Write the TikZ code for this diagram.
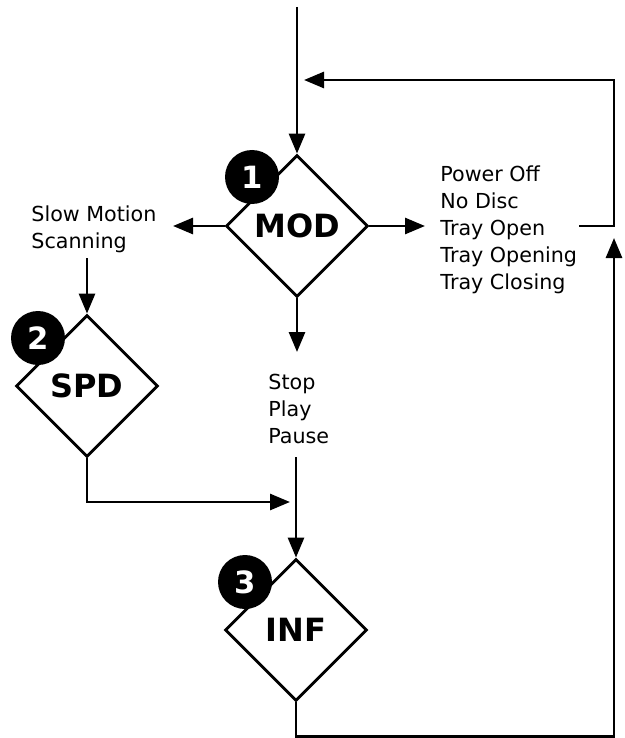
\documentclass[tikz,border=0pt]{standalone}
\usepackage{fontspec}
\setmainfont{DejaVu Sans}
\usetikzlibrary{shapes.geometric,arrows.meta}

\begin{document}
\begin{tikzpicture}[x=0.75pt,y=0.75pt,line width=2.1pt,
  flow/.style={-{Triangle[length=15pt,width=12pt]}},
  decision/.style={diamond,draw=black,fill=white,line width=2.1pt,minimum width=106.5pt,minimum height=106.5pt,inner sep=0pt,font=\fontsize{24}{28}\selectfont\bfseries},
  badge/.style={circle,fill=black,draw=none,text=white,minimum size=40.5pt,inner sep=0pt,font=\fontsize{23}{27}\selectfont\bfseries},
  cases/.style={anchor=north west,align=left,inner sep=0pt,font=\fontsize{15.5}{20.25}\selectfont}]
\useasboundingbox (0,0) rectangle (624,-738);
\node[decision] (mod) at (297,-226) {MOD};
\node[decision] (spd) at (87,-386) {SPD};
\node[decision] (inf) at (296,-630) {INF};
\node[badge] (badge-1) at (252,-177) {1};
\node[badge] (badge-2) at (38,-338) {2};
\node[badge] (badge-3) at (245,-582) {3};
\node[cases] (slow-cases) at (30,-204) {Slow Motion\\Scanning};
\node[cases] (tray-cases) at (439,-164) {Power Off\\No Disc\\Tray Open\\Tray Opening\\Tray Closing};
\node[cases] (play-cases) at (267,-373) {Stop\\Play\\Pause};
\coordinate (entry) at (297,-7);
\coordinate (slow-in) at (173,-226);
\coordinate (slow-out) at (87,-258);
\coordinate (tray-in) at (425,-226);
\coordinate (tray-out) at (579,-226);
\coordinate (return-in) at (304,-80);
\coordinate (play-in) at (297,-352);
\coordinate (play-out) at (296,-457);
\coordinate (join-in) at (290,-502);
\coordinate (loop-in) at (614,-238);
\draw[flow] (entry) -- (mod.north);
\draw[flow] (mod.west) -- (slow-in);
\draw[flow] (mod.east) -- (tray-in);
\draw[flow] (mod.south) -- (play-in);
\draw[flow] (slow-out) -- (spd.north);
\draw[flow] (tray-out) -- ++(35,0) |- (return-in);
\draw[flow] (spd.south) |- (join-in);
\draw[flow] (play-out) -- (inf.north);
\draw[flow] (inf.south) -- ++(0,-34) -| (loop-in);
\end{tikzpicture}
\end{document}
